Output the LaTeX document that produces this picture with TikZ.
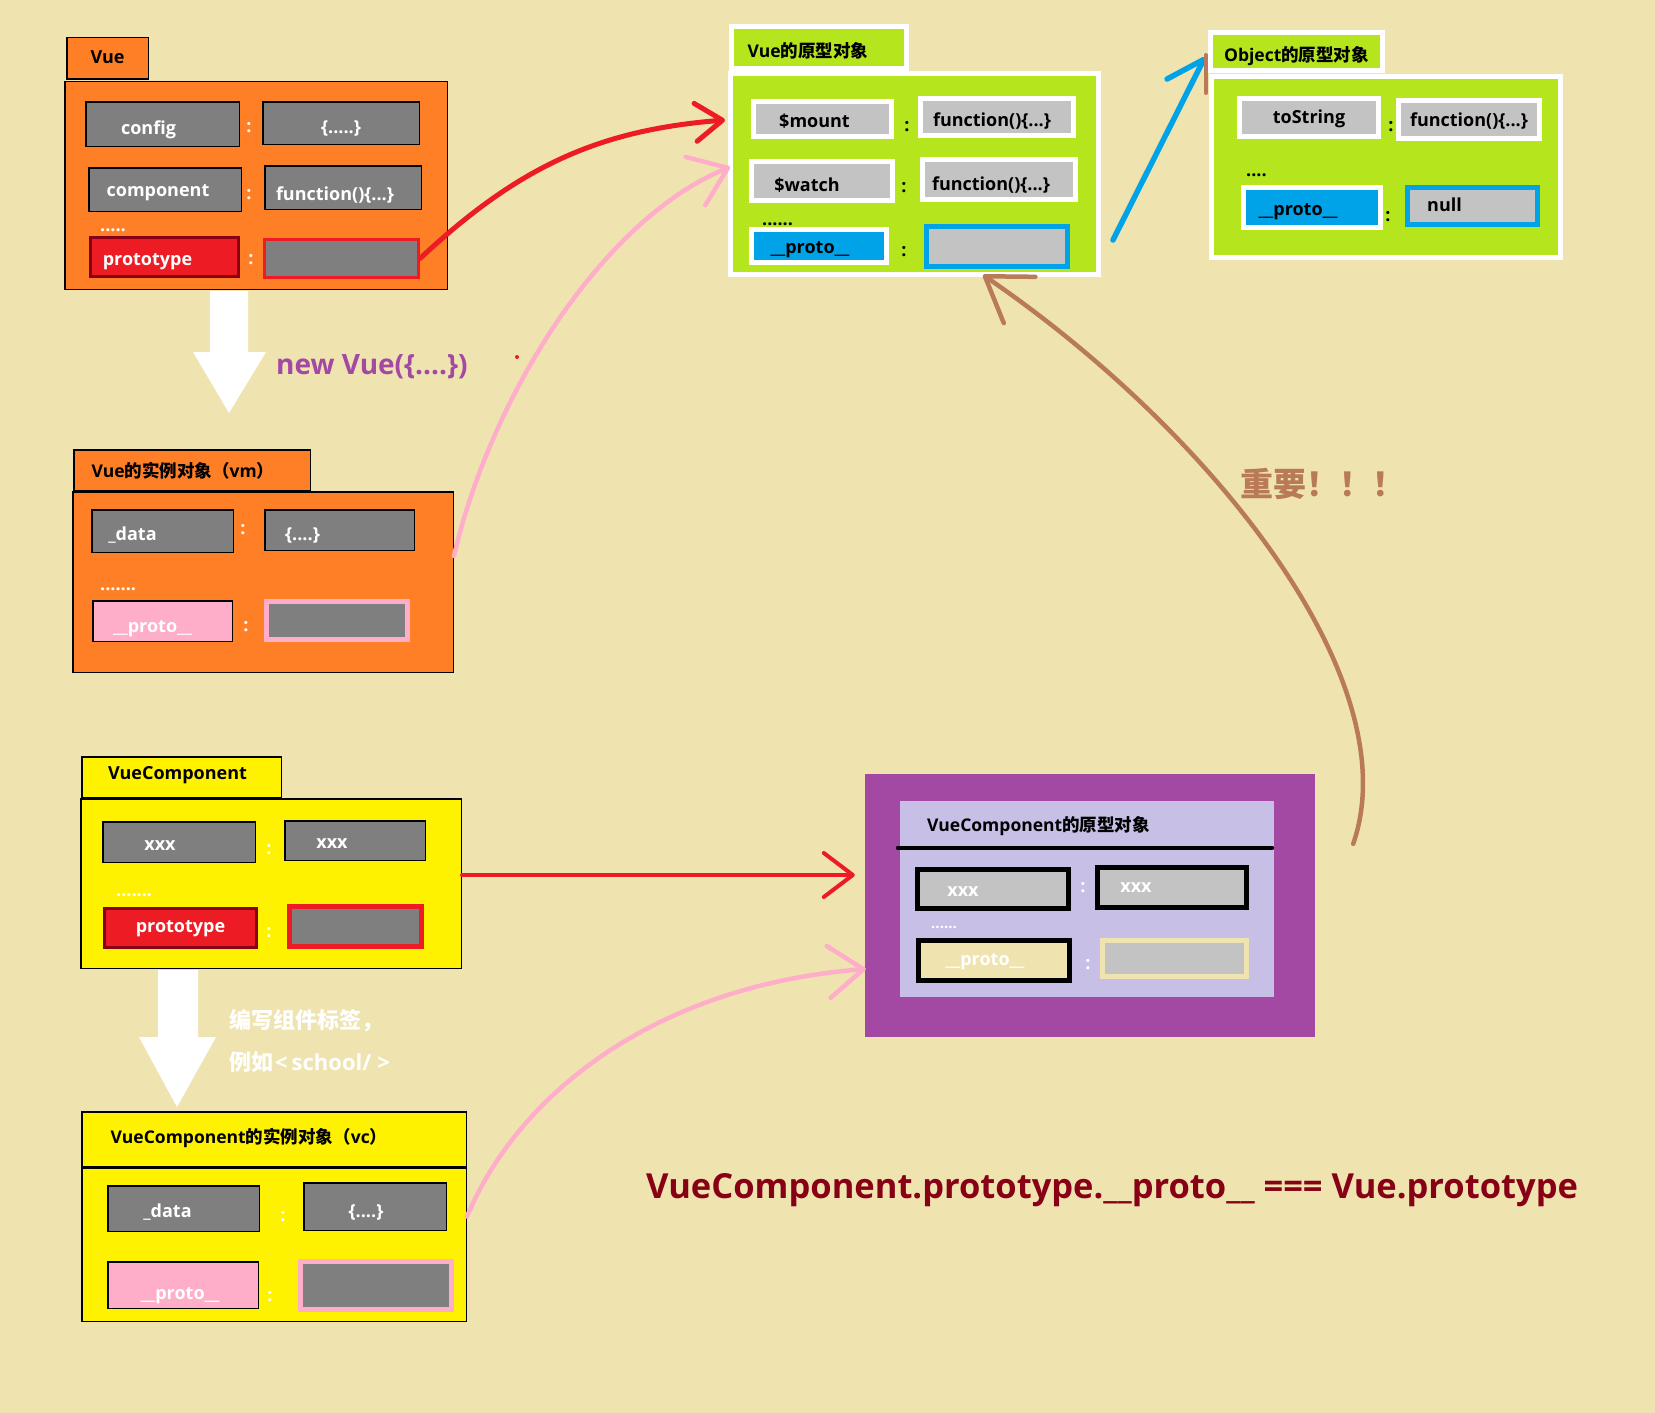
\documentclass[tikz,border=0pt]{standalone}
\usepackage{fontspec}
\setmainfont{Open Sans}
\newfontfamily\cjk{Noto Sans CJK SC}
\usetikzlibrary{arrows.meta}
\definecolor{cBg}{HTML}{EFE4B0}
\definecolor{cOr}{HTML}{FF7F27}
\definecolor{cGr}{HTML}{7F7F7F}
\definecolor{cLg}{HTML}{C3C3C3}
\definecolor{cRed}{HTML}{ED1C24}
\definecolor{cDRed}{HTML}{880015}
\definecolor{cPink}{HTML}{FFAEC9}
\definecolor{cGreen}{HTML}{B5E61D}
\definecolor{cBlue}{HTML}{00A2E8}
\definecolor{cYel}{HTML}{FFF200}
\definecolor{cPur}{HTML}{A349A4}
\definecolor{cLav}{HTML}{C8BFE7}
\definecolor{cBrown}{HTML}{B97A57}
\newcommand\shft[2]{\hspace*{#1pt}\hspace*{#1pt}#2}
\newcommand\bx[8]{\node[#1,minimum width={#5-#3-#7},minimum height={#6-#4-#7}] (#2) at ({(#3+#5)/2},{(#4+#6)/2}) {#8};}
\tikzset{
  bxbase/.style={inner sep=0pt, font=\bfseries\fontsize{18}{21}\selectfont, text height=17pt, text depth=0pt},
  orangeb/.style={bxbase, fill=cOr, draw=black, line width=1.5pt, text=black},
  yelb/.style={bxbase, fill=cYel, draw=black, line width=1.5pt, text=black},
  gbox/.style={bxbase, fill=cGr, draw=black, line width=1.5pt, text=white},
  redb/.style={bxbase, fill=cRed, draw=cDRed, line width=3pt, text=white},
  redvalA/.style={bxbase, fill=cGr, draw=cRed, line width=3pt},
  redvalB/.style={bxbase, fill=cGr, draw=cRed, line width=5pt},
  pinkb/.style={bxbase, fill=cPink, draw=black, line width=1.5pt, text=white},
  pinkval/.style={bxbase, fill=cGr, draw=cPink, line width=5pt},
  gw/.style={bxbase, fill=cGreen, draw=white, line width=5pt, text=black},
  lgw/.style={bxbase, fill=cLg, draw=white, line width=5pt, text=black},
  blueb/.style={bxbase, fill=cBlue, draw=white, line width=5pt, text=black},
  blueval/.style={bxbase, fill=cLg, draw=cBlue, line width=5pt, text=black},
  kbox/.style={bxbase, fill=cLg, draw=black, line width=5pt, text=white},
  beigeb/.style={bxbase, fill=cBg, draw=black, line width=5pt, text=white},
  beigeval/.style={bxbase, fill=cLg, draw=cBg, line width=5pt},
  colw/.style={inner sep=0pt, font=\bfseries\fontsize{18}{21}\selectfont, text=white},
  colk/.style={colw, text=black},
  dotw/.style={inner sep=0pt, anchor=base west, font=\bfseries\fontsize{18}{21}\selectfont, text=white},
  dotk/.style={dotw, text=black},
  redarr/.style={draw=cRed, line width=5pt, line cap=round, -{Straight Barb[length=27pt,width=38pt,round]}},
  redarrB/.style={draw=cRed, line width=4pt, line cap=round, -{Straight Barb[length=29pt,width=44pt,round]}},
  pinkarr/.style={draw=cPink, line width=4.5pt, line cap=round, -{Straight Barb[length=35pt,width=52pt,round]}},
  brownarr/.style={draw=cBrown, line width=4.5pt, line cap=round, -{Straight Barb[length=42pt,width=56pt,round]}},
  bluearr/.style={draw=cBlue, line width=5.5pt, line cap=round, -{Straight Barb[harpoon,length=34pt,width=48pt,round]}},
}
\begin{document}
\begin{tikzpicture}[x=1pt,y=-1pt]
\useasboundingbox (0,0) rectangle (1655,1413);
\fill[cBg] (0,0) rectangle (1655,1413);

% ---------- Vue ----------
\bx{orangeb,text height=11pt}{vuetab}{66}{37}{149}{80}{1.5}{Vue}
\bx{orangeb}{vuemain}{64}{81}{448}{290}{1.5}{}
\bx{gbox,text height=20pt}{cfg}{85}{101}{240}{147}{1.5}{\shft{-14}{config}}
\bx{gbox,text height=20pt}{cfgv}{262}{101}{420}{145}{1.5}{\{.....\}}
\bx{gbox,text height=13pt}{comp}{88}{167}{242}{212}{1.5}{\shft{-7}{component}}
\bx{gbox,text height=25pt}{compv}{264}{165}{422}{210}{1.5}{\shft{-8}{function()\{...\}}}
\node[dotw] (vdots) at (100,231) {.....};
\bx{redb,text height=16pt}{vproto}{89}{236}{240}{278}{3}{\shft{-17}{prototype}}
\bx{redvalA}{vprotov}{263}{238}{420}{279}{3}{}
\node[colw] (vc1) at (249,128) {:};
\node[colw] (vc2) at (249,195) {:};
\node[colw] (vc3) at (251,260) {:};

% white arrow 1
\fill[white] (210,291) -- (248,291) -- (248,352) -- (266,352) -- (229,413) -- (193,352) -- (210,352) -- cycle;
\node[anchor=west, inner sep=0pt, text=cPur, font=\bfseries\fontsize{28}{32}\selectfont] (newvue) at (276,367) {new Vue(\{....\})};

% ---------- vm ----------
\bx{orangeb,text height=14pt}{vmtab}{73}{449}{311}{491}{1.5}{\shft{-9}{{\fontsize{17.5}{21}\selectfont Vue{\cjk 的实例对象（}vm{\cjk ）}}}}
\bx{orangeb}{vmmain}{72}{491}{454}{673}{1.5}{}
\bx{gbox,text height=18pt}{vmd}{91}{509}{234}{553}{1.5}{\shft{-30}{\_data}}
\bx{gbox,text height=20pt}{vmdv}{264}{509}{415}{551}{1.5}{\shft{-37}{\{....\}}}
\node[dotw] (vmdots) at (100,590) {.......};
\bx{pinkb,text height=22pt}{vmp}{92}{600}{233}{642}{1.5}{\shft{-10}{\_\_proto\_\_}}
\bx{pinkval}{vmpv}{264}{599}{410}{642}{5}{}
\node[colw] (vmc1) at (243,530) {:};
\node[colw] (vmc2) at (246,627) {:};

% ---------- Vue prototype ----------
\bx{gw,text height=20pt}{ptab}{729}{24}{909}{71}{5}{\shft{-11}{{\fontsize{17.5}{21}\selectfont Vue{\cjk 的原型对象}}}}
\bx{gw}{pmain}{728}{71}{1101}{277}{5}{}
\bx{lgw,text height=16pt}{pm}{751}{99}{894}{139}{5}{\shft{-8}{\$mount}}
\bx{lgw,text height=18pt}{pmv}{918}{96}{1076}{138}{5}{\shft{-5}{function()\{...\}}}
\bx{lgw,text height=20pt}{pw}{749}{159}{895}{203}{5}{\shft{-15}{\$watch}}
\bx{lgw,text height=21pt}{pwv}{920}{157}{1078}{202}{5}{\shft{-8}{function()\{...\}}}
\node[dotk] (pdots) at (762,225) {......};
\bx{blueb,text height=14pt}{pp}{749}{227}{889}{265}{5}{\shft{-9}{\_\_proto\_\_}}
\bx{blueval}{ppv}{924}{224}{1070}{269}{5}{}
\node[colk] (pc1) at (907,127) {:};
\node[colk] (pc2) at (904,188) {:};
\node[colk] (pc3) at (904,252) {:};

% ---------- Object prototype ----------
\bx{gw,text height=20pt}{otab}{1208}{30}{1385}{73}{5}{{\fontsize{17.5}{21}\selectfont Object{\cjk 的原型对象}}}
\bx{gw}{omain}{1209}{74}{1563}{260}{5}{}
\bx{lgw,text height=11pt}{ots}{1237}{96}{1381}{139}{5}{toString}
\bx{lgw,text height=13pt}{otsv}{1396}{98}{1542}{141}{5}{function()\{...\}}
\node[dotk] (odots) at (1246,176) {....};
\bx{blueb,text height=15pt}{op}{1241}{185}{1383}{230}{5}{\shft{-14}{\_\_proto\_\_}}
\bx{blueval,text height=10pt}{opv}{1405}{185}{1540}{227}{5}{\shft{-28}{null}}
\node[colk] (oc1) at (1391,127) {:};
\node[colk] (oc2) at (1388,217) {:};

% ---------- VueComponent ----------
\bx{yelb,text height=4pt}{vctab}{81}{756}{282}{798}{1.5}{\shft{-4}{VueComponent}}
\bx{yelb}{vcmain}{80}{798}{462}{969}{1.5}{}
\bx{gbox,text height=16pt}{vcx}{102}{821}{256}{863}{1.5}{\shft{-19}{xxx}}
\bx{gbox,text height=15pt}{vcxv}{284}{820}{426}{861}{1.5}{\shft{-23}{xxx}}
\node[dotw] (vcdots) at (116,896) {.......};
\bx{redb,text height=8pt}{vcp}{103}{907}{258}{949}{3}{prototype}
\bx{redvalB}{vcpv}{287}{904}{424}{949}{5}{}
\node[colw] (vcc1) at (269,850) {:};
\node[colw] (vcc2) at (269,933) {:};

% white arrow 2
\fill[white] (158,970) -- (198,970) -- (198,1037) -- (216,1037) -- (177,1107) -- (139,1037) -- (158,1037) -- cycle;
\node[anchor=west, align=left, inner sep=0pt, text=white, font=\bfseries\fontsize{22}{42}\selectfont] (tagtxt) at (229,1041) {{\cjk 编写组件标签，}\\{\cjk 例如}\hspace{2pt}<\hspace{4pt}school/\hspace{6pt}>};

% ---------- VueComponent prototype ----------
\node[fill=cPur, inner sep=0pt, minimum width=450pt, minimum height=263pt] (pout) at (1090,905.5) {};
\node[fill=cLav, inner sep=0pt, minimum width=374pt, minimum height=196pt] (lav) at (1087,899) {};
\node[anchor=west, inner sep=0pt, text=black, font=\bfseries\fontsize{17.5}{21}\selectfont] (lavtitle) at (927,826) {VueComponent{\cjk 的原型对象}};
\draw[black, line width=4pt, line cap=round] ([xshift=-2pt,yshift=-47pt]lav.north west) -- ([xshift=-2pt,yshift=-47pt]lav.north east);
\bx{kbox,text height=14pt}{px}{915}{867}{1071}{911}{5}{\shft{-30}{xxx}}
\bx{kbox,text height=9pt}{pxv}{1095}{865}{1249}{910}{5}{\shft{-36}{xxx}}
\node[dotw, font=\bfseries\fontsize{15}{18}\selectfont] (pxdots) at (931,928) {......};
\bx{beigeb,text height=9pt}{ppr}{916}{938}{1072}{983}{5}{\shft{-9}{\_\_proto\_\_}}
\bx{beigeval}{pprv}{1100}{938}{1249}{979}{5}{}
\node[colw] (pxc1) at (1083,888) {:};
\node[colw] (pxc2) at (1088,965) {:};

% ---------- vc ----------
\bx{yelb,text height=8pt}{vctop}{81}{1111}{467}{1167}{1.5}{\shft{-25}{{\fontsize{17.5}{21}\selectfont VueComponent{\cjk 的实例对象（}vc{\cjk ）}}}}
\bx{yelb}{vcbot}{81}{1167}{467}{1322}{1.5}{}
\bx{gbox,text height=17pt}{vcd}{107}{1185}{260}{1232}{1.5}{\shft{-16}{\_data}}
\bx{gbox,text height=21pt}{vcdv}{303}{1182}{447}{1231}{1.5}{\shft{-9}{\{....\}}}
\bx{pinkb,text height=28pt}{vcpr}{107}{1261}{259}{1309}{1.5}{\shft{-3}{\_\_proto\_\_}}
\bx{pinkval}{vcprv}{298}{1259}{454}{1312}{5}{}
\node[colw] (vccc1) at (283,1217) {:};
\node[colw] (vccc2) at (270,1297) {:};

% ---------- texts ----------
\node[anchor=west, inner sep=0pt, text=cBrown, font=\bfseries\fontsize{33}{36}\selectfont] (imp) at (1240,484) {\cjk 重要！！！};
\node[anchor=west, inner sep=0pt, text=cDRed, font=\bfseries\fontsize{34.5}{40}\selectfont] (eq) at (646,1190) {VueComponent.prototype.\_\_proto\_\_ === Vue.prototype};

% ---------- connectors ----------
\draw[redarr] (vprotov.east) .. controls (520,165) and (600,130) .. ([xshift=-3pt,yshift=54pt]pmain.west);
\draw[pinkarr] ([yshift=26pt]vmmain.east) .. controls (490,400) and (600,220) .. ([xshift=2pt,yshift=7pt]pmain.west);
\fill[cRed] (517,357) circle (2pt);
\draw[bluearr] ([xshift=12pt,yshift=-66pt]pmain.east) -- ([xshift=-4pt,yshift=17pt]omain.north west);
\draw[cBrown, line width=4pt, line cap=round] ([xshift=-3pt,yshift=19pt]omain.north west) -- ([xshift=-3pt,yshift=-19pt]omain.north west);
\draw[redarrB] ([yshift=8.5pt]vcmain.east) -- ([xshift=-10pt,yshift=30.5pt]pout.west);
\draw[pinkarr] ([yshift=28pt]vcbot.east) .. controls (520,1090) and (660,985) .. ([xshift=1pt,yshift=-63.5pt]pout.west);
\draw[brownarr] ([xshift=38pt,yshift=-70pt]pout.north east) .. controls (1410,680) and (1210,430) .. ([xshift=-14pt,yshift=-6pt]ppv.south);
\end{tikzpicture}
\end{document}
